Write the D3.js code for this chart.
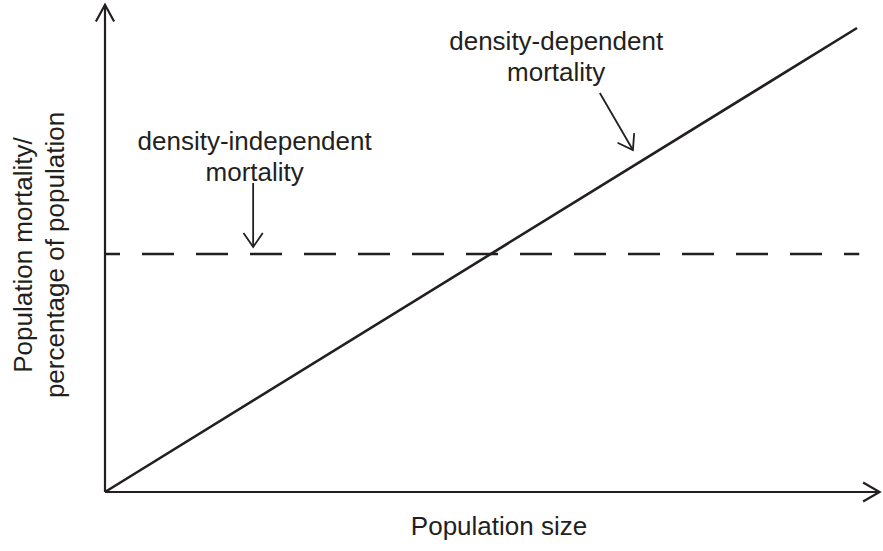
<!DOCTYPE html>
<html>
<head>
<meta charset="utf-8">
<script src="https://cdn.jsdelivr.net/npm/d3@7"></script>
<style>
  body { margin: 0; background: #fff; }
  text { font-family: "Liberation Sans", Arial, sans-serif; fill: #231f20; }
</style>
</head>
<body>
<div id="chart"></div>
<script>
// relative units: population size (x) and mortality (y), 0..1
const populationSize = [0, 1];
const densityDependent = [0, 1];
const densityIndependentX = [0, 1.003];
const densityIndependent = [0.513, 0.513];

const xLabel = "Population size";
const yLabel = ["Population mortality/", "percentage of population"];

const annotations = [
  { lines: ["density-dependent", "mortality"], text: [0.6, 0.952], from: [0.658, 0.86], to: [0.702, 0.737] },
  { lines: ["density-independent", "mortality"], text: [0.199, 0.738], from: [0.197, 0.666], to: [0.197, 0.528] }
];

const width = 883, height = 551;
const ink = "#231f20";

const svg = d3.select("#chart").append("svg")
  .attr("width", width)
  .attr("height", height);

const x = d3.scaleLinear().domain([0, 1]).range([105, 857]);
const y = d3.scaleLinear().domain([0, 1]).range([492, 28]);

function arrowHead(tip, angle, len, spread) {
  const a1 = angle + Math.PI - spread, a2 = angle + Math.PI + spread;
  return `M${tip[0] + len * Math.cos(a1)},${tip[1] + len * Math.sin(a1)}L${tip[0]},${tip[1]}L${tip[0] + len * Math.cos(a2)},${tip[1] + len * Math.sin(a2)}`;
}

function arrow(p0, p1, width, len, spread) {
  const ang = Math.atan2(p1[1] - p0[1], p1[0] - p0[0]);
  svg.append("line")
    .attr("x1", p0[0]).attr("y1", p0[1])
    .attr("x2", p1[0]).attr("y2", p1[1])
    .attr("stroke", ink).attr("stroke-width", width);
  svg.append("path")
    .attr("d", arrowHead(p1, ang, len, spread))
    .attr("fill", "none").attr("stroke", ink).attr("stroke-width", width);
}

// axes
arrow([x(0), y(0)], [x(1.03), y(0)], 2.2, 19, 0.52);
arrow([x(0), y(0)], [x(0), y(1.05)], 2.2, 19, 0.5);

const line = d3.line().x(d => x(d[0])).y(d => y(d[1]));

svg.append("path")
  .datum(d3.zip(populationSize, densityDependent))
  .attr("d", line)
  .attr("fill", "none")
  .attr("stroke", ink)
  .attr("stroke-width", 2.6);

svg.append("path")
  .datum(d3.zip(densityIndependentX, densityIndependent))
  .attr("d", line)
  .attr("fill", "none")
  .attr("stroke", ink)
  .attr("stroke-width", 2.6)
  .attr("stroke-dasharray", "32 22")
  .attr("stroke-dashoffset", 17);

// annotations
annotations.forEach(a => {
  const t = svg.append("text")
    .attr("x", x(a.text[0]))
    .attr("y", y(a.text[1]))
    .attr("text-anchor", "middle")
    .style("font-size", "26px");
  a.lines.forEach((s, i) => {
    t.append("tspan").attr("x", x(a.text[0])).attr("dy", i ? 31 : 0).text(s);
  });
  arrow([x(a.from[0]), y(a.from[1])], [x(a.to[0]), y(a.to[1])], 1.8, 17, 0.6);
});

// axis labels
svg.append("text")
  .attr("x", 499)
  .attr("y", 535)
  .attr("text-anchor", "middle")
  .style("font-size", "26px")
  .text(xLabel);

const yl = svg.append("text")
  .attr("transform", "translate(32,255) rotate(-90)")
  .attr("text-anchor", "middle")
  .style("font-size", "26px");
yLabel.forEach((s, i) => {
  yl.append("tspan").attr("x", 0).attr("dy", i ? 32 : 0).text(s);
});
</script>
</body>
</html>
